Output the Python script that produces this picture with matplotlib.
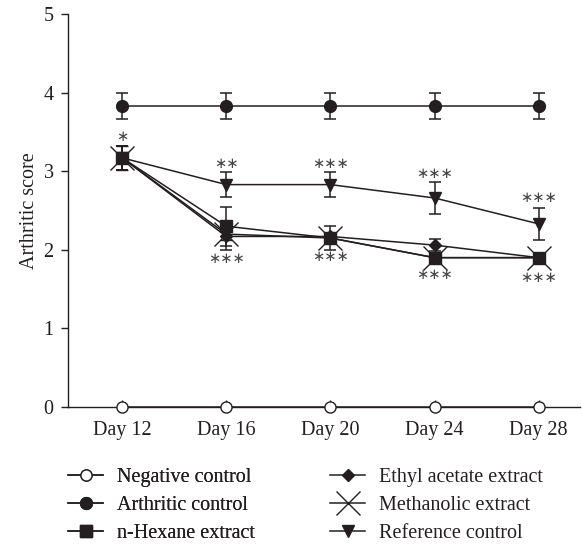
import matplotlib
matplotlib.use("Agg")
import matplotlib.pyplot as plt
from matplotlib.lines import Line2D
import numpy as np

days = ["Day 12", "Day 16", "Day 20", "Day 24", "Day 28"]

negative = [0, 0, 0, 0, 0]
arthritic = [3.83, 3.83, 3.83, 3.83, 3.83]
arthritic_err = [0.17, 0.17, 0.17, 0.17, 0.17]
hexane = [3.17, 2.30, 2.15, 1.90, 1.90]
hexane_err = [0.15, 0.25, 0.15, 0.05, 0.05]
ethyl = [3.17, 2.17, 2.17, 2.06, 1.90]
ethyl_err = [0.15, 0.17, 0.05, 0.08, 0.05]
methanolic = [3.17, 2.20, 2.15, 1.90, 1.90]
methanolic_err = [0.15, 0.08, 0.05, 0.05, 0.05]
reference = [3.17, 2.83, 2.83, 2.66, 2.33]
reference_err = [0.15, 0.16, 0.16, 0.20, 0.20]

stars_above = ["∗", "∗∗", "∗∗∗", "∗∗∗", "∗∗∗"]
stars_above_y = [3.44, 3.10, 3.10, 2.97, 2.66]
stars_below = ["", "∗∗∗", "∗∗∗", "∗∗∗", "∗∗∗"]
stars_below_y = [0, 1.89, 1.91, 1.68, 1.65]

ink = "#231f20"
plt.rcParams["font.family"] = ["Liberation Serif", "DejaVu Serif"]

fig = plt.figure(figsize=(5.82, 5.44), dpi=100)
ax = fig.add_axes([0.117, 0.252, 0.880, 0.722])
x = np.arange(len(days))

common = dict(color=ink, lw=1.1, elinewidth=1.1, capsize=4.5, capthick=1.1)

# series styles (marker, size) reused for legend handles
styles = {
    "Negative control": dict(marker="o", ms=8, mfc="white"),
    "Arthritic control": dict(marker="o", ms=8.5),
    "n-Hexane extract": dict(marker="s", ms=9),
    "Ethyl acetate extract": dict(marker="D", ms=6.5),
    "Methanolic extract": dict(marker="x", ms=17, mew=1.0),
    "Reference control": dict(marker="v", ms=8.5),
}

ax.plot(x, negative, color=ink, mec=ink, lw=1.1, clip_on=False, zorder=5,
        **styles["Negative control"])
ax.errorbar(x, arthritic, yerr=arthritic_err, **styles["Arthritic control"], **common)
ax.errorbar(x, reference, yerr=reference_err, **styles["Reference control"], **common)
ax.errorbar(x, methanolic, yerr=methanolic_err, **styles["Methanolic extract"], **common)
ax.errorbar(x, ethyl, yerr=ethyl_err, **styles["Ethyl acetate extract"], **common)
ax.errorbar(x, hexane, yerr=hexane_err, **styles["n-Hexane extract"], **common)

for i in range(len(days)):
    ax.text(x[i], stars_above_y[i], stars_above[i], ha="center", va="center",
            fontsize=10.5, color="#444444", family="DejaVu Sans")
    if stars_below[i]:
        ax.text(x[i], stars_below_y[i], stars_below[i], ha="center", va="center",
                fontsize=10.5, color="#444444", family="DejaVu Sans")

ax.set_xlim(-0.52, 4.40)
ax.set_ylim(0, 5)
ax.set_yticks([0, 1, 2, 3, 4, 5])
ax.set_xticks(x)
ax.set_xticklabels(days)
ax.spines["top"].set_visible(False)
ax.spines["right"].set_visible(False)
for s in ["left", "bottom"]:
    ax.spines[s].set_color(ink)
    ax.spines[s].set_linewidth(1.0)
ax.tick_params(axis="y", direction="out", length=5, width=1, colors=ink,
               labelsize=14.5, pad=5.5)
ax.tick_params(axis="x", direction="in", length=5, width=1, colors=ink,
               labelsize=14.5, pad=10)
ax.set_ylabel("Arthritic score", fontsize=14.5, color=ink)
ax.yaxis.set_label_coords(-0.057, 0.5)

order = ["Negative control", "Arthritic control", "n-Hexane extract",
         "Ethyl acetate extract", "Methanolic extract", "Reference control"]
handles = [Line2D([], [], color=ink, mec=ink, lw=1.1, **styles[n]) for n in order]

leg_opts = dict(loc="upper left", frameon=False, fontsize=14.5, handlelength=1.75,
                handletextpad=0.7, labelspacing=0.43, borderaxespad=0,
                borderpad=0, labelcolor=ink)
leg1 = fig.legend(handles[:3], order[:3], bbox_to_anchor=(0.117, 0.139), **leg_opts)
fig.add_artist(leg1)
fig.legend(handles[3:], order[3:], bbox_to_anchor=(0.567, 0.139), **leg_opts)

fig.savefig("out.png", dpi=100)
